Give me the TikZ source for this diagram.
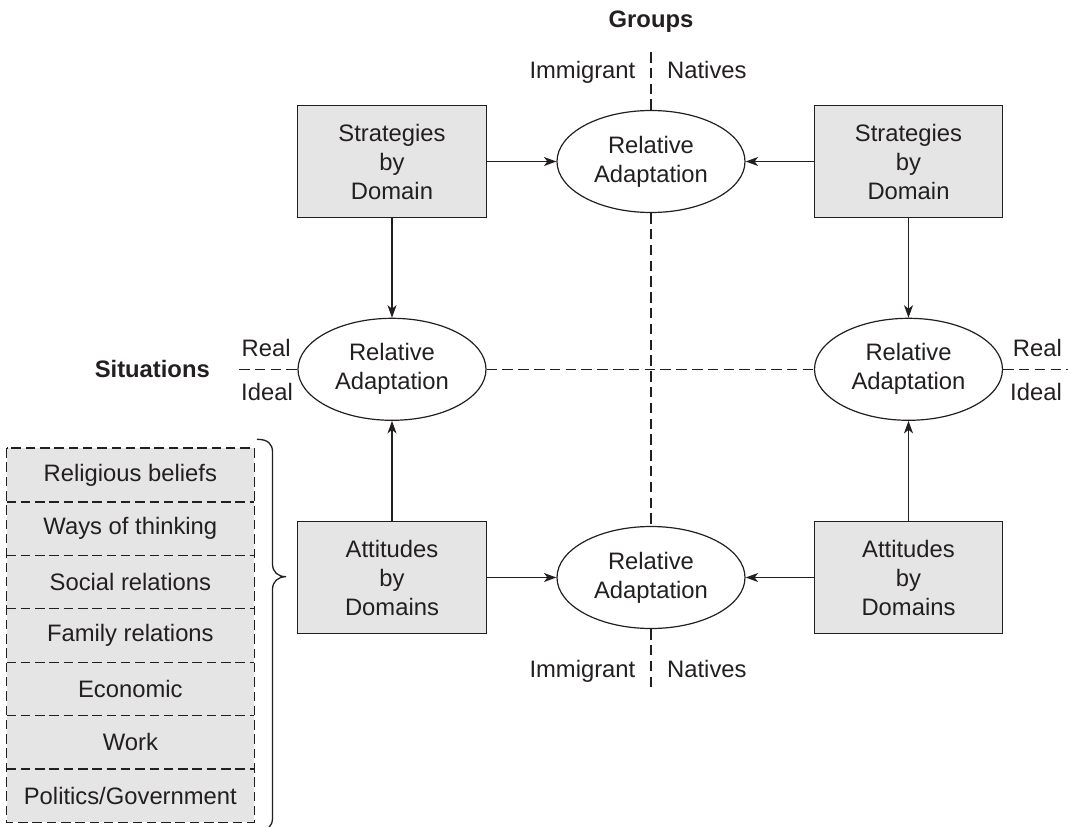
\documentclass[tikz,border=0pt]{standalone}
\usepackage{fontspec}
\setmainfont{Liberation Sans}
\usetikzlibrary{arrows.meta,shapes.geometric}
\definecolor{ink}{HTML}{231F20}
\definecolor{boxgray}{HTML}{E5E5E5}

\begin{document}
\begin{tikzpicture}[x=1pt,y=-1pt,
  txt/.style={font=\fontsize{23.8}{29}\selectfont, text=ink, inner sep=0pt},
  boldtxt/.style={txt, font=\fontsize{23.8}{29}\selectfont\bfseries},
  domainbox/.style={txt, draw=ink, line width=1.4pt, fill=boxgray,
    minimum width=188.5pt, minimum height=111.6pt, align=center},
  adapt/.style={txt, ellipse, draw=ink, line width=1.2pt, fill=white,
    minimum width=188pt, minimum height=102pt, align=center},
  arr/.style={draw=ink, line width=1.3pt,
    -{Stealth[length=12.5pt,width=9pt,inset=3.5pt]}},
  axisline/.style={draw=ink, line width=1.4pt, dash pattern=on 10.5pt off 5.3pt},
  rowbox/.style={txt, fill=boxgray, minimum width=247.3pt,
    minimum height=53.43pt, align=center},
  rowline/.style={draw=ink, line width=1.3pt, dash pattern=on 9.5pt off 4.8pt}
]
\useasboundingbox (0,0) rectangle (1068,827);
\clip (0,0) rectangle (1068,827);

% domain boxes
\node[domainbox] (stratL) at (392,161.5) {Strategies\\by\\Domain};
\node[domainbox] (stratR) at (908.5,161.5) {Strategies\\by\\Domain};
\node[domainbox] (attL) at (392,577.5) {Attitudes\\by\\Domains};
\node[domainbox] (attR) at (908.5,577.5) {Attitudes\\by\\Domains};

% relative adaptation ellipses
\node[adapt] (adT) at (651,161.5) {Relative\\Adaptation};
\node[adapt] (adB) at (651,577.5) {Relative\\Adaptation};
\node[adapt] (adL) at (392,369.3) {Relative\\Adaptation};
\node[adapt] (adR) at (908.5,369.3) {Relative\\Adaptation};

% axis ends
\coordinate (gTop) at (651,52);
\coordinate (gBot) at (651,687);
\coordinate (sL) at (239,369.3);
\coordinate (sR) at (1068,369.3);

% group axis (vertical) and situation axis (horizontal)
\draw[axisline] (gTop) -- (adT.north);
\draw[axisline] (adT.south) -- (adB.north);
\draw[axisline] (adB.south) -- (gBot);
\draw[axisline] (sL) -- (adL.west);
\draw[axisline] (adL.east) -- (adR.west);
\draw[axisline] (adR.east) -- (sR);

% arrows
\draw[arr] (stratL.east) -- (adT.west);
\draw[arr] (stratR.west) -- (adT.east);
\draw[arr] (stratL.south) -- (adL.north);
\draw[arr] (stratR.south) -- (adR.north);
\draw[arr] (attL.north) -- (adL.south);
\draw[arr] (attR.north) -- (adR.south);
\draw[arr] (attL.east) -- (adB.west);
\draw[arr] (attR.west) -- (adB.east);

% axis labels
\node[boldtxt, anchor=base] (groups) at (651,27.5) {Groups};
\node[txt, anchor=base east] (immT) at (635.5,78.3) {Immigrant};
\node[txt, anchor=base west] (natT) at (667,78.3) {Natives};
\node[txt, anchor=base east] (immB) at (635.5,677) {Immigrant};
\node[txt, anchor=base west] (natB) at (667,677) {Natives};
\node[boldtxt, anchor=base east] (situ) at (210,377.7) {Situations};
\node[txt, anchor=base west] (realL) at (241.5,356) {Real};
\node[txt, anchor=base west] (idealL) at (241,400) {Ideal};
\node[txt, anchor=base east] (realR) at (1062,356) {Real};
\node[txt, anchor=base east] (idealR) at (1062,400) {Ideal};

% list of domains
\foreach \t [count=\i] in {Religious beliefs, Ways of thinking, Social relations,
    Family relations, Economic, Work, Politics/Government}
  \node[rowbox] (r\i) at (130.35,{448.3+53.43*(\i-0.5)}) {\t};
\draw[rowline] (r1.north west) rectangle (r7.south east);
\foreach \i in {1,...,6}
  \draw[rowline] (r\i.south west) -- (r\i.south east);

% brace grouping the domains
\draw[ink, line width=1.3pt]
  (257,439.3) .. controls (268,439.3) and (272.5,444) .. (272.5,452)
  -- (272.5,564) .. controls (272.5,572) and (278,576.7) .. (286,576.7)
  .. controls (278,576.7) and (272.5,581.5) .. (272.5,589.5)
  -- (272.5,818) .. controls (272.5,826) and (268,831) .. (257,831);
\end{tikzpicture}
\end{document}
